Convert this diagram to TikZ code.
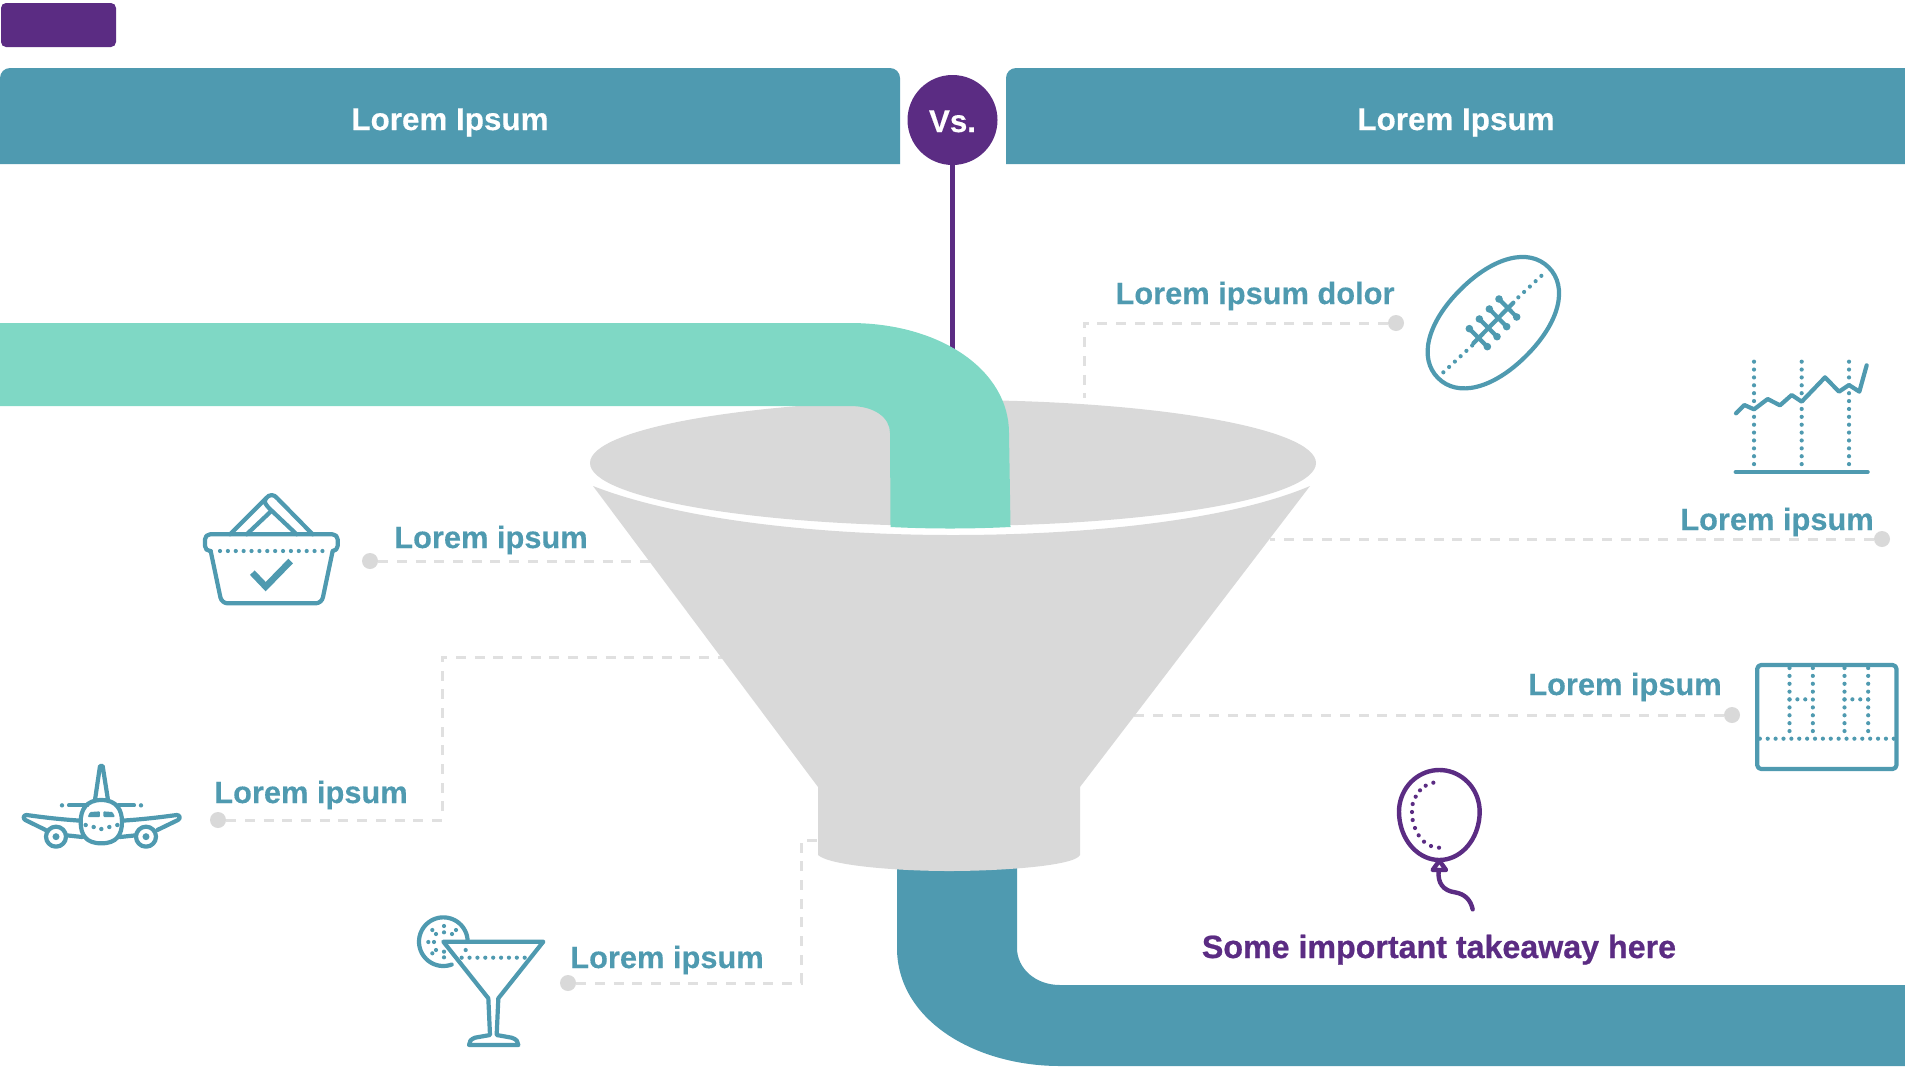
\documentclass[tikz,border=0pt]{standalone}
\usepackage{fontspec}
\setmainfont{Liberation Sans}
\definecolor{teal1}{HTML}{4F9AB0}
\definecolor{mint}{HTML}{7FD8C5}
\definecolor{purp}{HTML}{5B2C83}
\definecolor{fun}{HTML}{D9D9D9}
\definecolor{dashc}{HTML}{E0E0E0}
\newcommand{\heavy}{\bfseries\addfontfeature{FakeBold=0.35}}
\tikzset{
 lab/.style={font=\fontsize{30.8}{34}\selectfont\heavy,text=teal1,anchor=base,inner sep=0pt},
 head/.style={font=\fontsize{31.4}{34}\selectfont\heavy,text=white,anchor=base,inner sep=0pt},
 dot/.style={circle,fill=fun,draw=none,minimum size=16pt,inner sep=0pt},
 conn/.style={draw=dashc,line width=3pt,dash pattern=on 10pt off 8.7pt},
 ico/.style={draw=teal1,line width=4.2pt,line join=round,line cap=round},
 dots/.style={draw=teal1,line width=4.2pt,line cap=round,dash pattern=on 0pt off 7.88pt},
 zoomed/.style={shift={#1},x=0.33333pt,y=-0.33333pt},
}
\begin{document}
\begin{tikzpicture}[x=1pt,y=-1pt]
\useasboundingbox (0,0) rectangle (1905,1066);
\clip (0,0) rectangle (1905,1066);
% tag and headers
\fill[purp,rounded corners=5pt] (1,3) rectangle (116,47);
\fill[teal1] (0,164) -- (0,78) arc[start angle=180,end angle=90,radius=10pt] -- (890,68) arc[start angle=90,end angle=0,radius=10pt] -- (900,164) -- cycle;
\fill[teal1] (1006,164) -- (1006,78) arc[start angle=180,end angle=90,radius=10pt] -- (1905,68) -- (1905,164) -- cycle;
\node[head] (hl) at (450,130) {Lorem Ipsum};
\node[head] (hr) at (1456,130) {Lorem Ipsum};
\node[circle,fill=purp,minimum size=90pt,inner sep=0pt] (vs) at (952.5,120) {};
\node[head] (vst) at (952.5,132) {Vs.};
\coordinate (vsend) at (952.5,360);
\draw[purp,line width=4.4pt] (vs.south) -- (vsend);
% connectors
\node[dot] (d1) at (1396,323) {};
\coordinate (c1a) at (1084,323); \coordinate (c1b) at (1084,398);
\draw[conn] (d1) -- (c1a) -- (c1b);
\node[dot] (d2) at (1882,539) {};
\coordinate (c2a) at (1270,539);
\draw[conn] (d2) -- (c2a);
\node[dot] (d3) at (1732,715) {};
\coordinate (c3a) at (1130,715);
\draw[conn] (d3) -- (c3a);
\node[dot] (d4) at (370,561) {};
\coordinate (c4a) at (650,561);
\draw[conn] (d4) -- (c4a);
\node[dot] (d5) at (218,820) {};
\coordinate (c5a) at (442,820); \coordinate (c5b) at (442,657); \coordinate (c5c) at (725,657);
\draw[conn] (d5) -- (c5a) -- (c5b) -- (c5c);
\node[dot] (d6) at (568,983) {};
\coordinate (c6a) at (801,983); \coordinate (c6b) at (801,840); \coordinate (c6c) at (825,840);
\draw[conn] (d6) -- (c6a) -- (c6b) -- (c6c);
% blue outflow
\fill[teal1] (897,860) -- (897,948) .. controls (897,1020) and (975,1066) .. (1060,1066) -- (1905,1066) -- (1905,985) -- (1060,985) .. controls (1035,985) and (1017,968) .. (1017,948) -- (1017,860) -- cycle;
% funnel
\fill[fun] (953,463) ellipse[x radius=363pt,y radius=63pt];
\fill[fun] (593,486) .. controls (680,520) and (820,535) .. (953,535) .. controls (1090,535) and (1230,520) .. (1310,486) -- (1080,787) -- (1080,855) .. controls (1075,866) and (1000,871) .. (949,871) .. controls (900,871) and (830,866) .. (818,855) -- (818,787) -- cycle;
% mint inflow
\fill[mint] (0,323) -- (850,323) .. controls (940,323) and (1009,370) .. (1009,433) -- (1010.5,527) .. controls (970,529) and (930,529) .. (890.5,527) -- (890,433) .. controls (890,418) and (875,406) .. (850,406) -- (0,406) -- cycle;
% labels
\node[lab] (t1) at (1255,304) {Lorem ipsum dolor};
\node[lab] (t2) at (1777,530) {Lorem ipsum};
\node[lab] (t3) at (1625,695) {Lorem ipsum};
\node[lab] (t4) at (491,548) {Lorem ipsum};
\node[lab] (t5) at (311,803) {Lorem ipsum};
\node[lab] (t6) at (667,968) {Lorem ipsum};
\node[lab,text=purp,font=\fontsize{32.2}{34}\selectfont\bfseries\addfontfeature{FakeBold=0.7}] (t7) at (1439,958) {Some important takeaway here};
% basket
\begin{scope}[zoomed={(180,470)}]
\draw[ico,rounded corners=5pt] (92,243) -- (75,243) -- (75,193) -- (473,193) -- (473,243) -- (458,243);
\draw[ico,rounded corners=6pt] (92,243) -- (125,400) -- (425,400) -- (458,243);
\draw[ico] (150,193) -- (258,85) .. controls (268,72) and (282,72) .. (292,85) -- (398,193);
\draw[ico] (200,193) -- (275,122) -- (350,193);
\draw[ico] (258,85) .. controls (250,95) and (255,103) .. (275,122);
\draw[dots] (120,243) -- (432,243);
\draw[draw=teal1,line width=6.5pt] (217,308) -- (257,350) -- (332,273);
\end{scope}
% plane
\begin{scope}[zoomed={(0,740)}]
\draw[ico] (304,180) .. controls (350,180) and (366,210) .. (366,245) .. controls (366,285) and (350,310) .. (304,310) .. controls (258,310) and (242,285) .. (242,245) .. controls (242,210) and (258,180) .. (304,180) -- cycle;
\draw[ico] (285,180) -- (300,78) -- (308,78) -- (324,180);
\draw[ico] (207,196) -- (262,196) (355,196) -- (402,196);
\fill[teal1] (186,196) circle[radius=2.2pt] (423,196) circle[radius=2.2pt];
\draw[ico] (242,242) .. controls (180,238) and (130,232) .. (80,225) .. controls (70,225) and (68,235) .. (76,240) -- (137,270);
\draw[ico] (366,242) .. controls (428,238) and (478,232) .. (530,225) .. controls (540,225) and (542,235) .. (534,240) -- (472,270);
\draw[ico] (168,290) circle[radius=10pt] (438,290) circle[radius=10pt];
\fill[teal1] (168,290) circle[radius=3.5pt] (438,290) circle[radius=3.5pt];
\draw[ico] (200,286) -- (247,291) (407,286) -- (360,291);
\fill[teal1,rounded corners=1pt] (270,216) -- (300,214) -- (300,231) -- (263,231) -- cycle;
\fill[teal1,rounded corners=1pt] (310,214) -- (338,216) -- (345,231) -- (310,231) -- cycle;
\foreach \p in {(257,255),(281,261),(304,267),(328,261),(352,255)} \fill[teal1] \p circle[radius=2.2pt];
\end{scope}
% martini
\begin{scope}[zoomed={(400,900)}]
\draw[ico] plot[domain=-3:-290,samples=50] ({130+73*cos(\x)},{125+73*sin(\x)});
\draw[ico] (130,125) -- (430,125) -- (295,295) -- (290,405) -- (335,413) .. controls (350,418) and (355,425) .. (355,435) -- (207,435) .. controls (207,425) and (212,418) .. (225,413) -- (270,405) -- (265,295) -- cycle;
\foreach \p in {(132,78),(97,90),(168,90),(132,97),(108,102),(156,102),(85,126),(102,126),(108,150),(132,155),(97,160),(132,172),(197,150)} \fill[teal1] \p circle[radius=2.1pt];
\draw[dots] (185,173) -- (380,173);
\end{scope}
% football
\begin{scope}[zoomed={(1400,240)}]
\draw[ico] (446,82) .. controls (505,141) and (479,247) .. (379,347) .. controls (279,447) and (173,473) .. (114,414) .. controls (55,355) and (81,249) .. (181,149) .. controls (281,49) and (387,23) .. (446,82) -- cycle;
\draw[dots] (130,397) -- (218,315);
\draw[dots] (355,172) -- (432,100);
\draw[ico] (220,310) -- (340,188);
\foreach \a/\b/\c/\d in {208/266/262/320,238/237/291/290,268/207/320/260,297/177/350/231}{
 \draw[ico] (\a,\b) -- (\c,\d);
 \fill[teal1] (\a,\b) circle[radius=3.8pt] (\c,\d) circle[radius=3.8pt];
}
\draw[ico] (1008,520) -- (1033,495) -- (1062,508) -- (1103,477) -- (1140,496) -- (1175,465) -- (1205,485) -- (1275,412) -- (1317,455) -- (1347,435) -- (1378,455) -- (1400,376);
\foreach \x in {1062,1205,1347} \draw[dots] (\x,365) -- (\x,680);
\draw[ico] (1007,696) -- (1403,696);
\end{scope}
% grid
\begin{scope}[zoomed={(1381.5,650)}]
\draw[ico,rounded corners=4pt] (1127,45) rectangle (1545,357);
\foreach \x in {1224,1294,1389,1460} \draw[dots] (\x,54) -- (\x,248);
\draw[dots] (1224,148) -- (1294,148);
\draw[dots] (1389,148) -- (1460,148);
\draw[dots] (1135,266) -- (1540,266);
\end{scope}
% balloon
\begin{scope}[zoomed={(1380,650)}]
\draw[draw=purp,line width=4.4pt] plot[domain=0:360,samples=73] ({178+121*cos(\x)},{485+(sin(\x)<0?125:145)*sin(\x)}) -- cycle;
\foreach \p in {(160,398),(137,407),(120,421),(107,440),(98,462),(96,486),(98,510),(105,534),(116,556),(132,575),(153,588),(177,593)} \fill[purp] \p circle[radius=2.1pt];
\draw[draw=purp,line width=4.4pt,line join=round] (178,632) -- (158,660) -- (198,660) -- cycle;
\draw[draw=purp,line width=4.4pt,line cap=round] (176,660) .. controls (172,700) and (190,722) .. (225,727) .. controls (255,732) and (272,750) .. (278,778);
\end{scope}
\end{tikzpicture}
\end{document}
